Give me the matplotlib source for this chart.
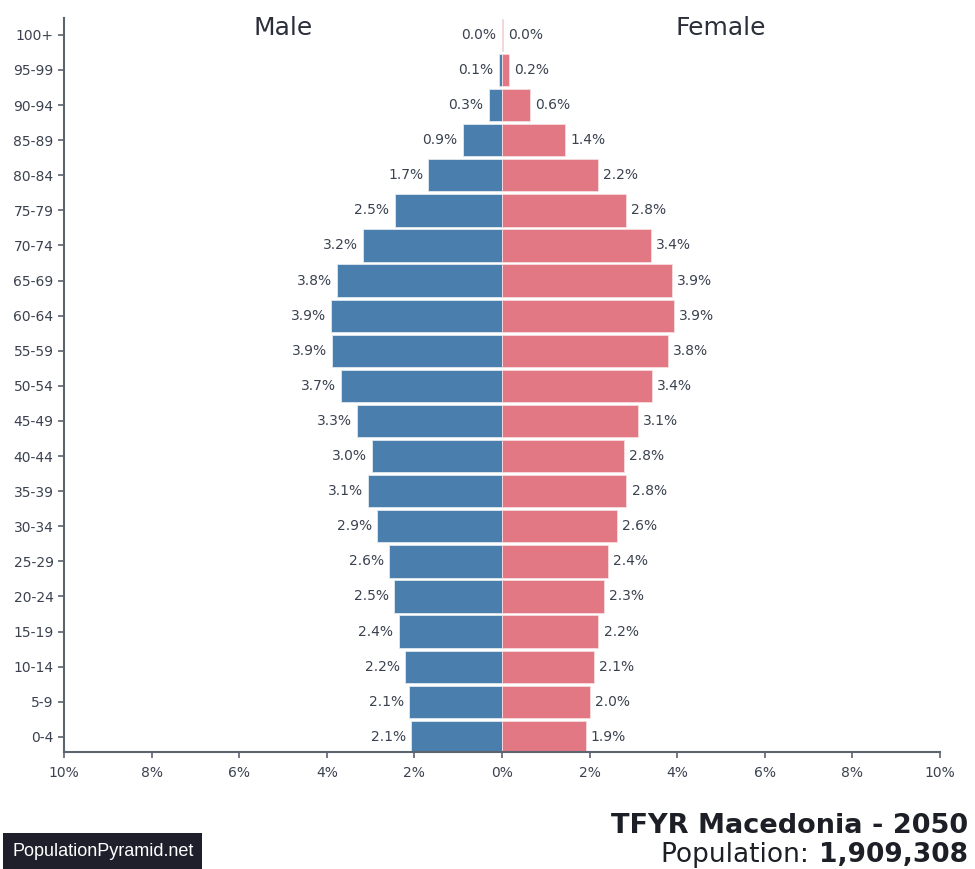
import numpy as np
from matplotlib import pyplot as plt

ages = ['0-4', '5-9', '10-14', '15-19', '20-24', '25-29', '30-34', '35-39',
        '40-44', '45-49', '50-54', '55-59', '60-64', '65-69', '70-74',
        '75-79', '80-84', '85-89', '90-94', '95-99', '100+']
male = [2.08, 2.12, 2.21, 2.36, 2.47, 2.58, 2.85, 3.06, 2.96, 3.30, 3.68,
        3.88, 3.90, 3.76, 3.18, 2.45, 1.68, 0.90, 0.30, 0.07, 0.01]
female = [1.91, 2.00, 2.10, 2.20, 2.32, 2.41, 2.62, 2.84, 2.78, 3.10, 3.42,
          3.78, 3.92, 3.87, 3.40, 2.82, 2.19, 1.44, 0.64, 0.16, 0.02]
population = '1,909,308'

male_c = '#4a7ead'
female_c = '#e27884'
text_c = '#3a4250'
axis_c = '#5c6470'


def graphing():
    fig = plt.figure(figsize=(9.75, 8.69), dpi=100)
    ax = fig.add_axes([64 / 975, 1 - 752 / 869, 876 / 975, 734 / 869])

    y = np.arange(len(ages))
    ax.barh(y, [-m for m in male], height=0.92, color=male_c,
            edgecolor='#dfe8f0', linewidth=0.6)
    ax.barh(y, female, height=0.92, color=female_c,
            edgecolor='#f6dde0', linewidth=0.6)

    for i, (m, f) in enumerate(zip(male, female)):
        ax.text(-m - 0.12, i, f'{m:.1f}%', ha='right', va='center',
                fontsize=10, color=text_c)
        ax.text(f + 0.12, i, f'{f:.1f}%', ha='left', va='center',
                fontsize=10, color=text_c)

    ax.set_xlim(-10, 10)
    ax.set_ylim(-0.43, 20.48)
    ticks = np.arange(-10, 11, 2)
    ax.set_xticks(ticks)
    ax.set_xticklabels([f'{abs(t)}%' for t in ticks])
    ax.set_yticks(y)
    ax.set_yticklabels(ages)
    ax.tick_params(axis='both', labelsize=10, colors=text_c,
                   length=4, width=1.2, color=axis_c)
    ax.tick_params(axis='x', pad=6)

    for side in ['top', 'right']:
        ax.spines[side].set_visible(False)
    for side in ['left', 'bottom']:
        ax.spines[side].set_color(axis_c)
        ax.spines[side].set_linewidth(1.5)

    ax.text(-5, 20.2, 'Male', ha='center', va='center', fontsize=18,
            color='#2b2f3a')
    ax.text(5, 20.2, 'Female', ha='center', va='center', fontsize=18,
            color='#2b2f3a')

    fig.text(968 / 975, 1 - 826 / 869, 'TFYR Macedonia - 2050', ha='right',
             va='center', fontsize=19.5, fontweight='bold', color='#1c1f26')
    num = fig.text(968 / 975, 1 - 855 / 869, population, ha='right',
                   va='center', fontsize=19, fontweight='bold',
                   color='#1c1f26')
    fig.canvas.draw()
    bb = num.get_window_extent()
    fig.text((bb.x0 - 2) / 975, 1 - 855 / 869, 'Population: ', ha='right',
             va='center', fontsize=19, color='#1c1f26')
    fig.text(12 / 975, 1 - 851 / 869, 'PopulationPyramid.net', ha='left',
             va='center', fontsize=13, color='white',
             family='Liberation Sans',
             bbox=dict(boxstyle='square,pad=0.5', fc='#1e1f2b', ec='none'))

    fig.savefig('out.png', dpi=100)


if __name__ == "__main__":
    graphing()
